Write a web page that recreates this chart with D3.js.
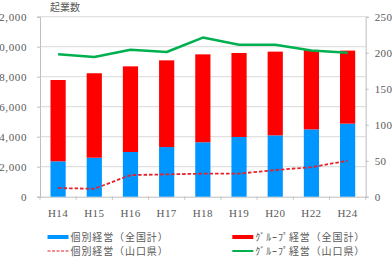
<!DOCTYPE html>
<html><head><meta charset="utf-8">
<script src="https://cdn.jsdelivr.net/npm/d3@7"></script>
<style>
html,body{margin:0;padding:0;background:#fff;overflow:hidden;}
svg{display:block;}
</style></head>
<body>
<svg id="c" width="392" height="268"></svg>
<script>
const categories = ["H14","H15","H16","H17","H18","H19","H20","H22","H24"];
const individualNational = [2360, 2600, 2980, 3310, 3630, 3980, 4090, 4490, 4870];
const groupNational = [5420, 5630, 5710, 5780, 5860, 5600, 5580, 5290, 4870];
const individualYamaguchi = [12, 11, 30, 31, 32, 32, 37, 41, 50];
const groupYamaguchi = [198, 194, 204, 201, 221, 211, 211, 203, 200];
const leftTicks = [0, 2000, 4000, 6000, 8000, 10000, 12000];
const rightTicks = [0, 50, 100, 150, 200, 250];
const title = "起業数";
const legendLabels = ["個別経営（全国計）", "ｸﾞﾙｰﾌﾟ経営（全国計）", "個別経営（山口県）", "ｸﾞﾙｰﾌﾟ経営（山口県）"];

const svg = d3.select("#c");
const L = 40, R = 365.7, T = 16.7, B = 196.7;
const serif = "'Liberation Serif','DejaVu Serif',serif";
const cjk = "'Noto Sans CJK JP','Noto Sans CJK SC',sans-serif";
const textCol = "#595959";

const x = d3.scaleBand().domain(categories).range([L, R]).paddingInner(0.58).paddingOuter(0.29);
const yL = d3.scaleLinear().domain([0, 12000]).range([B, T]);
const yR = d3.scaleLinear().domain([0, 250]).range([B, T]);

// gridlines
svg.append("g").selectAll("line").data(leftTicks.slice(1)).join("line")
  .attr("x1", L).attr("x2", R).attr("y1", d => yL(d)).attr("y2", d => yL(d))
  .attr("stroke", "#d9d9d9").attr("stroke-width", 1);

// left axis
const gL = svg.append("g").attr("transform", `translate(${L},0)`)
  .call(d3.axisLeft(yL).tickValues(leftTicks).tickSize(3).tickPadding(10).tickFormat(d3.format(",")));
gL.select(".domain").attr("stroke", "#bfbfbf");
gL.selectAll(".tick line").attr("stroke", "#bfbfbf");
gL.selectAll("text").attr("font-family", serif).attr("font-size", 11).attr("fill", textCol).attr("letter-spacing", "0.6px");

// right axis
const gR = svg.append("g").attr("transform", `translate(${R},0)`)
  .call(d3.axisRight(yR).tickValues(rightTicks).tickSize(3).tickPadding(6));
gR.select(".domain").attr("stroke", "#bfbfbf");
gR.selectAll(".tick line").attr("stroke", "#bfbfbf");
gR.selectAll("text").attr("font-family", serif).attr("font-size", 11).attr("fill", textCol).attr("letter-spacing", "0.4px");

// x axis
const gX = svg.append("g").attr("transform", `translate(0,${B})`)
  .call(d3.axisBottom(x).tickSize(0).tickPadding(13));
gX.select(".domain").attr("stroke", "#bfbfbf");
gX.selectAll("text").attr("font-family", serif).attr("font-size", 11).attr("fill", textCol).attr("letter-spacing", "0.4px");
// boundary tick marks
const bounds = categories.map(c => x(c) - x.step() * x.paddingInner() / 2).concat([R]);
svg.append("g").selectAll("line").data(bounds).join("line")
  .attr("x1", d => d).attr("x2", d => d).attr("y1", B).attr("y2", B + 3)
  .attr("stroke", "#bfbfbf");

// stacked bars
const bw = x.bandwidth();
svg.append("g").selectAll("rect").data(categories).join("rect")
  .attr("x", d => x(d)).attr("width", bw)
  .attr("y", (d, i) => yL(individualNational[i])).attr("height", (d, i) => B - yL(individualNational[i]))
  .attr("fill", "#0096ff");
svg.append("g").selectAll("rect").data(categories).join("rect")
  .attr("x", d => x(d)).attr("width", bw)
  .attr("y", (d, i) => yL(individualNational[i] + groupNational[i]))
  .attr("height", (d, i) => yL(individualNational[i]) - yL(individualNational[i] + groupNational[i]))
  .attr("fill", "#ff0000");

// lines
const cx = d => x(d) + bw / 2;
const lineGroup = d3.line().x((d, i) => cx(categories[i])).y(d => yR(d));
svg.append("path").datum(groupYamaguchi).attr("d", lineGroup)
  .attr("fill", "none").attr("stroke", "#00b050").attr("stroke-width", 2.5).attr("stroke-linejoin", "round");
svg.append("path").datum(individualYamaguchi).attr("d", lineGroup)
  .attr("fill", "none").attr("stroke", "#e8202a").attr("stroke-width", 1.8).attr("stroke-dasharray", "3.5,2");

// title
svg.append("text").attr("x", 50).attr("y", 10.5).text(title)
  .attr("font-family", cjk).attr("font-size", 10).attr("fill", textCol);

// legend
const legend = [
  {x: 47.5, y: 237, label: legendLabels[0], color: "#0096ff", w: 4, dash: null},
  {x: 232.3, y: 237, label: legendLabels[1], color: "#ff0000", w: 4, dash: null},
  {x: 47.5, y: 251, label: legendLabels[2], color: "#e8202a", w: 1.2, dash: "3,1.5"},
  {x: 232.3, y: 251, label: legendLabels[3], color: "#00b050", w: 2, dash: null}
];
const lg = svg.append("g").selectAll("g").data(legend).join("g");
lg.append("line").attr("x1", d => d.x).attr("x2", d => d.x + 21).attr("y1", d => d.y).attr("y2", d => d.y)
  .attr("stroke", d => d.color).attr("stroke-width", d => d.w).attr("stroke-dasharray", d => d.dash);
lg.append("text").attr("x", d => d.x + 23).attr("y", d => d.y).attr("dy", "0.36em").text(d => d.label)
  .attr("font-family", cjk).attr("font-size", 10).attr("fill", textCol).attr("letter-spacing", "0.9px");
</script>
</body></html>
